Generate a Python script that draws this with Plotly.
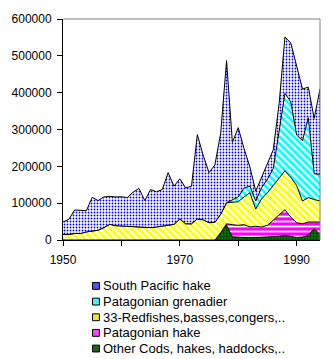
import plotly.graph_objects as go

# Annual catches (tonnes), 1950-1994
years = list(range(1950, 1995))

south_pacific_hake = [
    34000, 41000, 63800, 61900, 57600, 92000, 80500, 83400, 76100, 78000,
    79500, 78000, 94000, 104600, 72500, 103400, 95600, 99800, 143000, 103500,
    108500, 97500, 102000, 228500, 175000, 136000, 155500, 220000, 386000, 156000,
    188000, 107000, 52000, 26700, 28000, 40000, 51000, 75000, 153000, 160000,
    184000, 140000, 83000, 150000, 232000,
]
patagonian_grenadier = [0] * 29 + [
    7000, 13000, 24000, 18000, 22000, 30000, 37000, 46000, 129000, 210000,
    205000, 137000, 164000, 217000, 70000, 72000,
]
redfishes = [
    15000, 15000, 17700, 17700, 22000, 24000, 26500, 33600, 42500, 39000,
    38000, 37000, 36000, 35400, 34500, 33600, 35400, 37200, 40000, 42500,
    57500, 44000, 44000, 57500, 55000, 47000, 48000, 50000, 57000, 60400,
    64200, 75400, 92600, 47000, 76600, 88200, 94900, 99600, 105700, 108000,
    101000, 62000, 66300, 61300, 57300,
]
patagonian_hake = [0] * 28 + [
    4000, 32800, 32800, 34600, 29400, 30000, 29400, 32800, 45100, 56400,
    69300, 53000, 40000, 36000, 35700, 17700, 33700,
]
other_cods = [0] * 27 + [
    20000, 40000, 8800, 7000, 7000, 6000, 7000, 6000, 7000, 8000,
    10000, 13000, 9000, 7000, 8000, 13000, 31000, 15000,
]

series_names = [
    "Other Cods, hakes, haddocks,..",
    "Patagonian hake",
    "33-Redfishes,basses,congers,..",
    "Patagonian grenadier",
    "South Pacific hake",
]
series_values = [other_cods, patagonian_hake, redfishes,
                 patagonian_grenadier, south_pacific_hake]

# fill pattern per series: (shape, foreground, background, size, solidity)
patterns = [
    (".", "#003300", "#008000", 3, 0.45),
    ("-", "#ffffff", "#ff00ff", 5, 0.35),
    ("\\", "#ffff00", "#ffffff", 5, 0.55),
    ("\\", "#00ffff", "#ffffff", 5, 0.55),
    (".", "#0000ff", "#ffffff", 3, 0.3),
]
swatch_colors = ["#1f5f1f", "#ff40ff", "#e8e840", "#50f0f0", "#5050ff"]

FONT = "Liberation Sans, Arial, sans-serif"

fig = go.Figure()
for name, vals, (shp, fg, bg, sz, sol) in zip(series_names, series_values, patterns):
    fig.add_trace(go.Scatter(
        x=years, y=vals, name=name, mode="lines",
        stackgroup="catch",
        line=dict(color="black", width=1),
        fillpattern=dict(shape=shp, fgcolor=fg, bgcolor=bg, size=sz,
                         solidity=sol, fillmode="replace"),
        showlegend=False,
        hoverinfo="x+y+name",
    ))

# plot area geometry in pixels, used to place the key below the chart
W, H = 334, 359
ML, MR, MT, MB = 59, 14, 14, 119
pw, ph = W - ML - MR, H - MT - MB


def px_x(x):
    return (x - ML) / pw


def px_y(y):
    return (H - MB - y) / ph


shapes = [
    # grey frame on the top and right of the plot area
    dict(type="line", xref="paper", yref="paper", x0=0, x1=1, y0=1, y1=1,
         line=dict(color="#808080", width=1)),
    dict(type="line", xref="paper", yref="paper", x0=1, x1=1, y0=0, y1=1,
         line=dict(color="#808080", width=1)),
]
annotations = []
row_y = [287, 303, 319, 335, 351]
for i, (name, col) in enumerate(zip(reversed(series_names), reversed(swatch_colors))):
    cy = row_y[i]
    shapes.append(dict(
        type="rect", xref="paper", yref="paper",
        x0=px_x(89), x1=px_x(96), y0=px_y(cy + 3.5), y1=px_y(cy - 3.5),
        fillcolor=col, line=dict(color="black", width=1),
    ))
    annotations.append(dict(
        xref="paper", yref="paper", x=px_x(98), y=px_y(cy),
        xanchor="left", yanchor="middle", showarrow=False,
        text=name, font=dict(family=FONT, size=13, color="black"),
    ))

fig.update_layout(
    width=W, height=H,
    margin=dict(l=ML, r=MR, t=MT, b=MB, pad=0),
    paper_bgcolor="white", plot_bgcolor="white",
    font=dict(family=FONT, size=12, color="black"),
    showlegend=False,
    shapes=shapes,
    annotations=annotations,
    xaxis=dict(
        range=[1950, 1994],
        tickvals=[1950, 1960, 1970, 1980, 1990],
        ticktext=["1950", "", "1970", "", "1990"],
        ticks="outside", ticklen=5, tickcolor="black", tickwidth=1,
        ticklabelstandoff=4,
        showline=True, linecolor="black", linewidth=1,
        showgrid=False, zeroline=False,
    ),
    yaxis=dict(
        range=[0, 600000], dtick=100000, tickformat="d",
        ticks="outside", ticklen=5, tickcolor="black", tickwidth=1,
        ticklabelstandoff=3,
        showline=True, linecolor="black", linewidth=1,
        showgrid=False, zeroline=False,
    ),
)

fig.write_html("out.html")
